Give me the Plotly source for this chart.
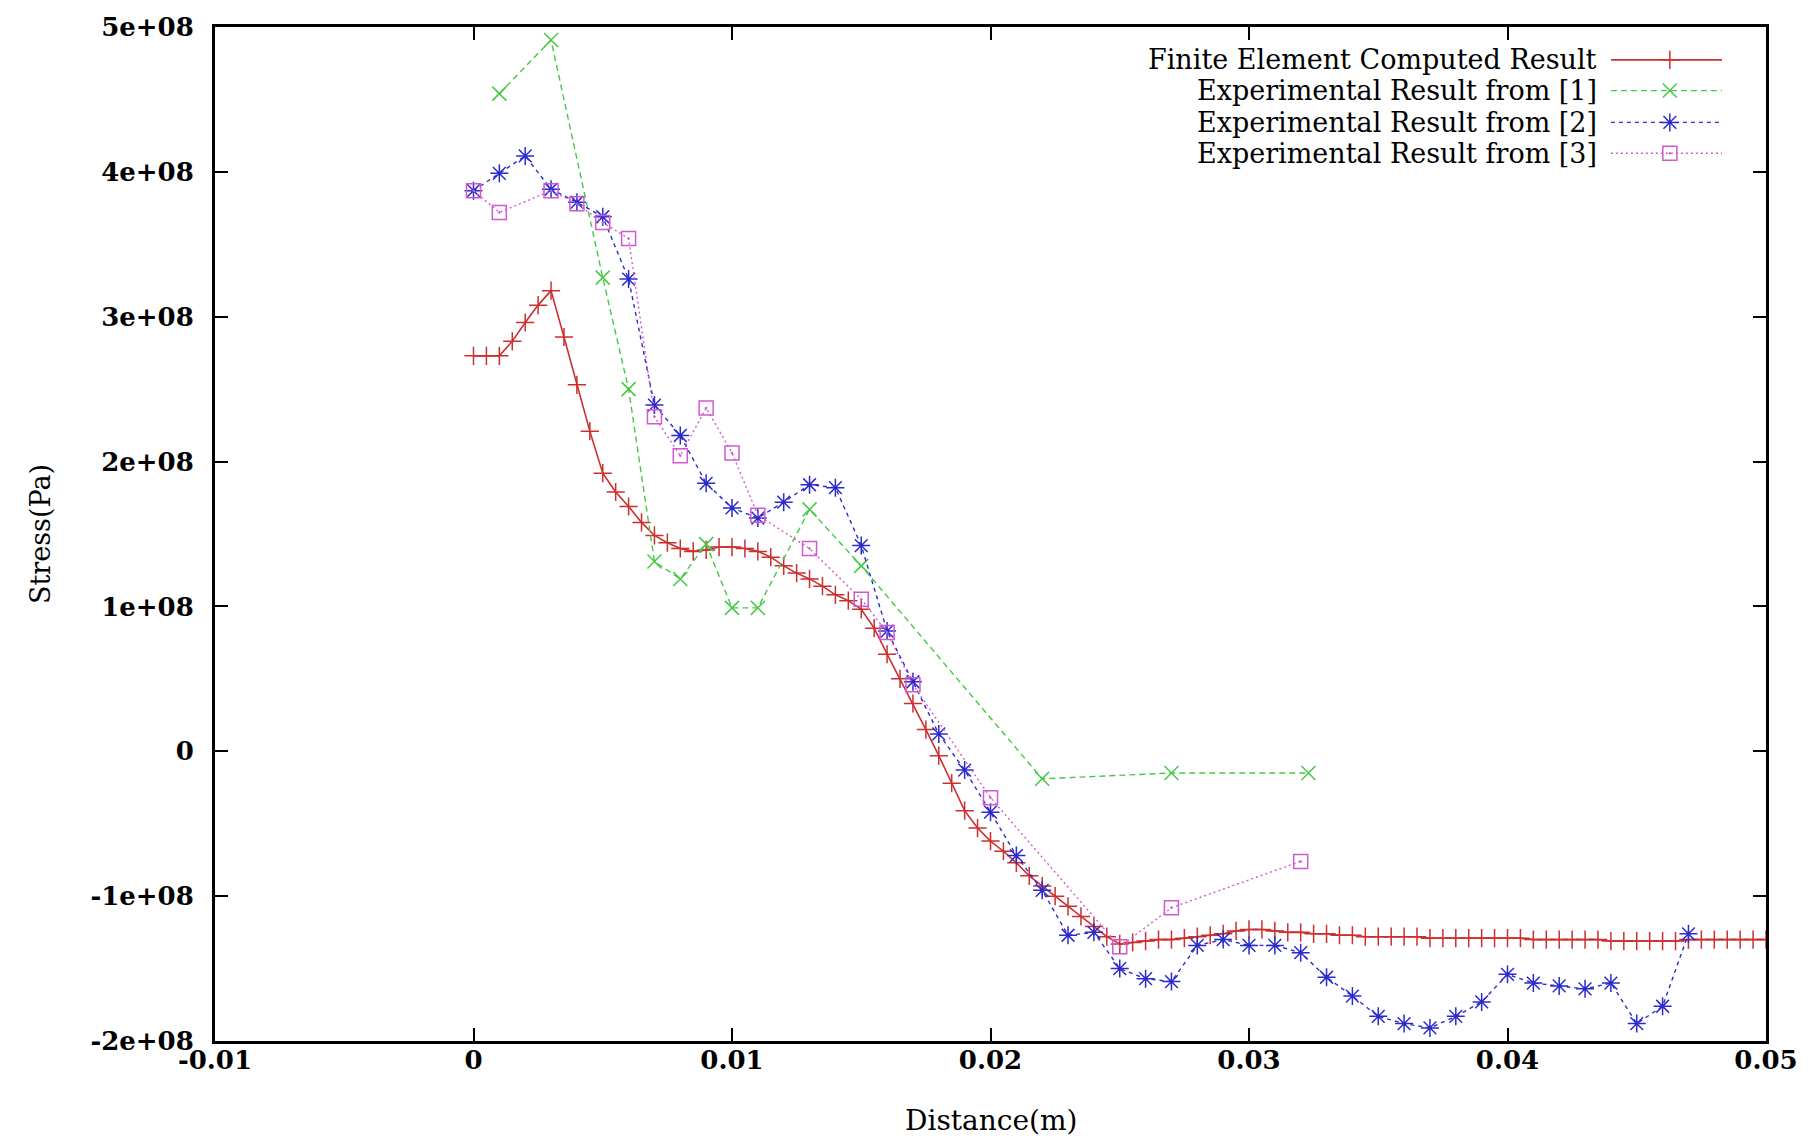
import plotly.graph_objects as go

# ---------------- data ----------------
fe_x = [i * 0.0005 for i in range(101)]
fe_y = [2.73, 2.73, 2.73, 2.83, 2.96, 3.08, 3.18, 2.86, 2.53, 2.21,
        1.92, 1.79, 1.69, 1.58, 1.49, 1.44, 1.40, 1.38, 1.39, 1.41,
        1.41, 1.40, 1.38, 1.34, 1.28, 1.23, 1.19, 1.14, 1.08, 1.04,
        0.98, 0.85, 0.67, 0.50, 0.33, 0.15, -0.03, -0.22, -0.41, -0.53,
        -0.62, -0.69, -0.77, -0.86, -0.93, -1.00, -1.07, -1.14, -1.21, -1.28,
        -1.33, -1.32, -1.31, -1.30, -1.30, -1.29, -1.28, -1.27, -1.26, -1.24,
        -1.23, -1.23, -1.24, -1.25, -1.25, -1.26, -1.26, -1.27, -1.27, -1.28,
        -1.28, -1.28, -1.28, -1.28, -1.29, -1.29, -1.29, -1.29, -1.29, -1.29,
        -1.29, -1.29, -1.30, -1.30, -1.30, -1.30, -1.30, -1.30, -1.31, -1.31,
        -1.31, -1.31, -1.31, -1.31, -1.30, -1.30, -1.30, -1.30, -1.30, -1.30,
        -1.30]
fe_y = [v * 1e8 for v in fe_y]

exp1_x = [0.001, 0.003, 0.005, 0.006, 0.007, 0.008, 0.009, 0.010, 0.011,
          0.013, 0.015, 0.022, 0.027, 0.0323]
exp1_y = [4.54, 4.91, 3.27, 2.50, 1.31, 1.19, 1.43, 0.99, 0.99,
          1.67, 1.28, -0.19, -0.15, -0.15]
exp1_y = [v * 1e8 for v in exp1_y]

exp2_x = [i * 0.001 for i in range(48)]
exp2_y = [3.87, 3.99, 4.11, 3.88, 3.79, 3.69, 3.26, 2.39, 2.18, 1.85,
          1.68, 1.61, 1.72, 1.84, 1.82, 1.42, 0.83, 0.48, 0.12, -0.13,
          -0.42, -0.72, -0.96, -1.27, -1.25, -1.50, -1.57, -1.59, -1.34, -1.30,
          -1.34, -1.34, -1.39, -1.56, -1.69, -1.83, -1.88, -1.91, -1.83, -1.73,
          -1.54, -1.60, -1.62, -1.64, -1.60, -1.88, -1.76, -1.26]
exp2_y = [v * 1e8 for v in exp2_y]

exp3_x = [0.0, 0.001, 0.003, 0.004, 0.005, 0.006, 0.007, 0.008, 0.009, 0.010,
          0.011, 0.013, 0.015, 0.016, 0.017, 0.020, 0.025, 0.027, 0.032]
exp3_y = [3.87, 3.72, 3.87, 3.78, 3.65, 3.54, 2.31, 2.04, 2.37, 2.06,
          1.63, 1.40, 1.05, 0.82, 0.46, -0.32, -1.35, -1.08, -0.76]
exp3_y = [v * 1e8 for v in exp3_y]

series_names = ["Finite Element Computed Result",
                "Experimental Result from [1]",
                "Experimental Result from [2]",
                "Experimental Result from [3]"]

x_tickvals = [-0.01, 0, 0.01, 0.02, 0.03, 0.04, 0.05]
x_ticktext = ["-0.01", "0", "0.01", "0.02", "0.03", "0.04", "0.05"]
y_tickvals = [-2e8, -1e8, 0, 1e8, 2e8, 3e8, 4e8, 5e8]
y_ticktext = ["-2e+08", "-1e+08", "0", "1e+08", "2e+08", "3e+08", "4e+08", "5e+08"]

# ---------------- styles ----------------
colors = ["#cc2f2f", "#45c945", "#2b2bcc", "#cf5acf"]
dashes = ["solid", "6px,4px", "4px,4px", "2px,3px"]
symbols = ["cross-thin-open", "x-thin-open", "asterisk-open", "square-open-dot"]
msizes = [13, 14, 15, 14]

datasets = [(fe_x, fe_y), (exp1_x, exp1_y), (exp2_x, exp2_y), (exp3_x, exp3_y)]

fig = go.Figure()
for i, (xs, ys) in enumerate(datasets):
    fig.add_trace(go.Scatter(
        x=xs, y=ys, mode="lines+markers", name=series_names[i],
        line=dict(color=colors[i], width=1.6 if i == 0 else 1.4, dash=dashes[i]),
        marker=dict(symbol=symbols[i], size=msizes[i], color=colors[i],
                    line=dict(color=colors[i], width=1.5)),
        showlegend=False,
    ))

# custom legend (text right-aligned, sample to its right) on an overlay axis
leg_y = [0.9676, 0.9373, 0.9059, 0.8755]
for i in range(4):
    fig.add_trace(go.Scatter(
        x=[0.900, 0.9716], y=[leg_y[i], leg_y[i]], mode="lines",
        line=dict(color=colors[i], width=1.6 if i == 0 else 1.4, dash=dashes[i]),
        xaxis="x2", yaxis="y2", showlegend=False, hoverinfo="skip"))
    fig.add_trace(go.Scatter(
        x=[0.938], y=[leg_y[i]], mode="markers",
        marker=dict(symbol=symbols[i], size=msizes[i], color=colors[i],
                    line=dict(color=colors[i], width=1.5)),
        xaxis="x2", yaxis="y2", showlegend=False, hoverinfo="skip"))
    fig.add_annotation(x=0.8917, y=leg_y[i], xref="paper", yref="paper",
                       text=series_names[i], showarrow=False, borderpad=0,
                       xanchor="right", yanchor="middle",
                       font=dict(family="DejaVu Serif", size=27, color="black"))

tickfont = dict(family="DejaVu Serif", size=26, color="black", weight="bold")
axis_common = dict(showline=True, linewidth=3, linecolor="black", mirror="ticks",
                   ticks="inside", ticklen=13, tickwidth=2, tickcolor="black",
                   showgrid=False, zeroline=False, tickfont=tickfont)

fig.update_layout(
    width=1818, height=1140, autosize=False,
    margin=dict(l=215, r=52, t=21, b=99),
    paper_bgcolor="white", plot_bgcolor="white",
    xaxis=dict(range=[-0.01, 0.05], tickvals=x_tickvals, ticktext=x_ticktext,
               ticklabelstandoff=-6, **axis_common),
    yaxis=dict(range=[-2e8, 5e8], tickvals=y_tickvals, ticktext=y_ticktext,
               ticklabelstandoff=13, **axis_common),
    xaxis2=dict(overlaying="x", range=[0, 1], visible=False),
    yaxis2=dict(overlaying="y", range=[0, 1], visible=False),
)

fig.add_annotation(x=0.5, y=-0.0784, xref="paper", yref="paper", text="Distance(m)",
                   showarrow=False, xanchor="center", yanchor="middle", borderpad=0,
                   font=dict(family="DejaVu Serif", size=28, color="black"))
fig.add_annotation(x=-0.1128, y=0.5, xref="paper", yref="paper", text="Stress(Pa)",
                   showarrow=False, textangle=-90, xanchor="center", yanchor="middle",
                   font=dict(family="DejaVu Serif", size=27, color="black"))

fig.write_html("out.html", config={"displayModeBar": False},
               post_script="document.body.style.margin='0';document.body.style.overflow='hidden';")
